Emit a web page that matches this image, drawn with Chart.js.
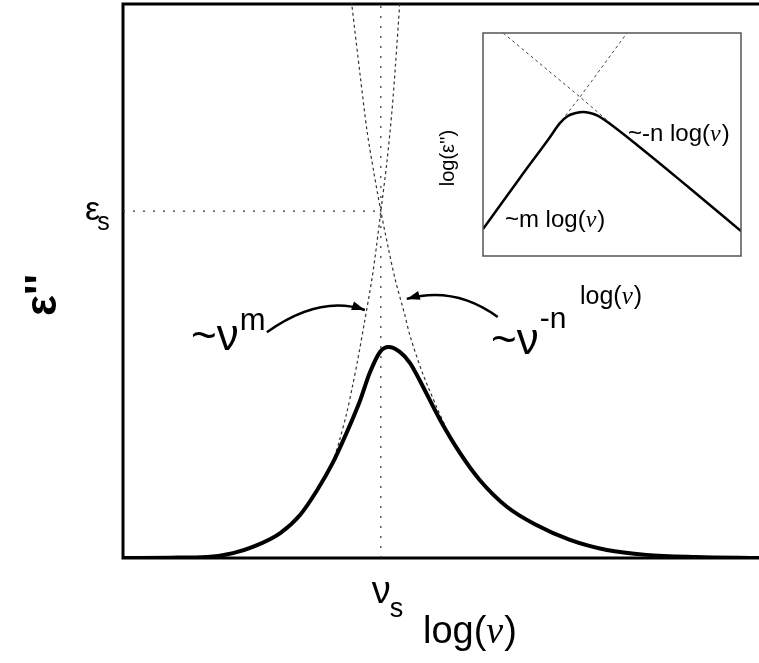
<!DOCTYPE html>
<html>
<head>
<meta charset="utf-8">
<script src="https://cdn.jsdelivr.net/npm/chart.js@4.4.1/dist/chart.umd.min.js"></script>
<style>
  html, body { margin: 0; padding: 0; background: #fff; }
  #wrap { position: relative; width: 759px; height: 663px; }
  #main { position: absolute; left: 0; top: 0; }
  #inset { position: absolute; left: 430px; top: 20px; }
</style>
</head>
<body>
<div id="wrap">
  <canvas id="main" width="759" height="663"></canvas>
  <canvas id="inset" width="329" height="300"></canvas>
</div>
<script>
// main panel: x = log(nu) in decades from nu_s, y = eps'' in units of eps_s
const logNu = [-3.00, -2.45, -2.02, -1.72, -1.49, -1.17, -0.94, -0.74, -0.56, -0.40, -0.24, -0.13, -0.01,
               0.09, 0.22, 0.34, 0.45, 0.69, 0.92, 1.15, 1.47, 1.81, 2.20, 2.63, 3.09, 3.67, 4.40];
const epsLoss = [0.000, 0.001, 0.003, 0.014, 0.032, 0.072, 0.124, 0.196, 0.274, 0.360, 0.455, 0.533, 0.594,
                 0.608, 0.594, 0.562, 0.513, 0.398, 0.303, 0.225, 0.147, 0.095, 0.052, 0.023, 0.009, 0.003, 0.000];

// low frequency power law ~nu^m
const mLogNu = [-0.56, -0.48, -0.40, -0.33, -0.27, -0.19, -0.10, -0.05, 0.00, 0.07, 0.13, 0.17, 0.22, 0.24];
const mEps   = [0.274, 0.340, 0.415, 0.495, 0.570, 0.680, 0.810, 0.900, 1.000, 1.140, 1.290, 1.420, 1.600, 1.680];

// high frequency power law ~nu^-n
const nLogNu = [-0.36, -0.34, -0.24, -0.16, -0.08, 0.00, 0.09, 0.17, 0.28, 0.34, 0.49, 0.65, 0.74];
const nEps   = [1.640, 1.600, 1.390, 1.230, 1.110, 1.000, 0.890, 0.800, 0.700, 0.640, 0.530, 0.435, 0.385];

// crossing point (nu_s, eps_s)
const nuS = 0;
const epsS = 1.0;

// inset: log(eps'') vs log(nu)
const insetX = [0.00, 1.43, 2.60, 2.98, 3.29, 3.60, 3.88, 4.15, 4.46, 4.77, 5.97, 7.91, 10.0];
const insetY = [1.21, 3.50, 5.34, 5.96, 6.28, 6.41, 6.46, 6.41, 6.28, 6.05, 4.98, 3.14, 1.12];
const insetMX = [2.91, 3.76, 5.58];
const insetMY = [5.87, 7.13, 10.0];
const insetNX = [0.78, 3.76, 5.12];
const insetNY = [10.0, 7.13, 5.78];

function pts(xs, ys) {
    return xs.map((x, i) => ({x: x, y: ys[i]}));
}

const SANS = '"Liberation Sans", Arial, sans-serif';
const SERIF = '"Liberation Serif", "Times New Roman", serif';

// draw text made of pieces with different fonts, left to right
function drawParts(ctx, x, y, parts) {
    let cx = x;
    parts.forEach(p => {
        ctx.font = p.font;
        ctx.fillText(p.t, cx, y + (p.dy || 0));
        cx += ctx.measureText(p.t).width + (p.gap || 0);
    });
}

function curvedArrow(ctx, x0, y0, cx, cy, x1, y1) {
    ctx.beginPath();
    ctx.moveTo(x0, y0);
    ctx.quadraticCurveTo(cx, cy, x1, y1);
    ctx.lineWidth = 2.5;
    ctx.stroke();
    let a = Math.atan2(y1 - cy, x1 - cx);
    let L = 13, W = 4.5;
    ctx.beginPath();
    ctx.moveTo(x1, y1);
    ctx.lineTo(x1 - L * Math.cos(a) + W * Math.sin(a), y1 - L * Math.sin(a) - W * Math.cos(a));
    ctx.lineTo(x1 - L * Math.cos(a) - W * Math.sin(a), y1 - L * Math.sin(a) + W * Math.cos(a));
    ctx.closePath();
    ctx.fill();
}

const mainDecor = {
    id: 'mainDecor',
    beforeDatasetsDraw(chart) {
        const ctx = chart.ctx, a = chart.chartArea;
        ctx.save();
        ctx.strokeStyle = '#000';
        ctx.lineWidth = 3;
        ctx.beginPath();
        ctx.moveTo(a.right, a.top + 1);
        ctx.lineTo(a.left, a.top + 1);
        ctx.lineTo(a.left, a.bottom);
        ctx.lineTo(a.right, a.bottom);
        ctx.stroke();
        ctx.restore();
    },
    afterDraw(chart) {
        const ctx = chart.ctx, a = chart.chartArea;
        const xs = chart.scales.x, ys = chart.scales.y;
        ctx.save();
        ctx.fillStyle = '#000';
        ctx.strokeStyle = '#000';
        ctx.textAlign = 'left';
        ctx.textBaseline = 'alphabetic';

        // eps_s at the left axis
        let yS = ys.getPixelForValue(epsS);
        drawParts(ctx, a.left - 38, yS + 9, [
            {t: 'ε', font: '34px ' + SANS, gap: -3},
            {t: 's', font: '25px ' + SANS, dy: 10}
        ]);

        // nu_s under the axis
        let xS = xs.getPixelForValue(nuS);
        drawParts(ctx, xS - 9, a.bottom + 45, [
            {t: 'ν', font: '38px ' + SANS, gap: -1},
            {t: 's', font: '27px ' + SANS, dy: 14}
        ]);

        // x axis title
        drawParts(ctx, 423, a.bottom + 85, [
            {t: 'log(', font: '38px ' + SANS},
            {t: 'ν', font: 'italic 38px ' + SERIF, gap: 1},
            {t: ')', font: '38px ' + SANS}
        ]);

        // y axis title, rotated
        ctx.save();
        ctx.translate(56, 295);
        ctx.rotate(-Math.PI / 2);
        ctx.textAlign = 'center';
        ctx.font = 'bold 44px ' + SANS;
        ctx.fillText("ε''", 0, 0);
        ctx.restore();

        // power law annotations
        drawParts(ctx, 191, 350, [
            {t: '~ν', font: '44px ' + SANS, gap: 1},
            {t: 'm', font: '31px ' + SANS, dy: -20}
        ]);
        drawParts(ctx, 491, 354, [
            {t: '~ν', font: '44px ' + SANS, gap: 1},
            {t: '-n', font: '30px ' + SANS, dy: -26}
        ]);

        curvedArrow(ctx,
            xs.getPixelForValue(-1.326), ys.getPixelForValue(0.651),
            xs.getPixelForValue(-0.709), ys.getPixelForValue(0.760),
            xs.getPixelForValue(-0.186), ys.getPixelForValue(0.715));
        curvedArrow(ctx,
            xs.getPixelForValue(1.360), ys.getPixelForValue(0.695),
            xs.getPixelForValue(0.860), ys.getPixelForValue(0.785),
            xs.getPixelForValue(0.302), ys.getPixelForValue(0.747));
        ctx.restore();
    }
};

const insetDecor = {
    id: 'insetDecor',
    afterDraw(chart) {
        const ctx = chart.ctx, a = chart.chartArea;
        const xs = chart.scales.x, ys = chart.scales.y;
        ctx.save();
        ctx.strokeStyle = '#555';
        ctx.lineWidth = 1.5;
        ctx.strokeRect(a.left, a.top, a.right - a.left, a.bottom - a.top);

        ctx.fillStyle = '#000';
        ctx.textBaseline = 'alphabetic';
        ctx.textAlign = 'left';
        drawParts(ctx, xs.getPixelForValue(5.62), ys.getPixelForValue(5.16), [
            {t: '~-n log(', font: '24px ' + SANS},
            {t: 'ν', font: 'italic 24px ' + SERIF, gap: 1},
            {t: ')', font: '24px ' + SANS}
        ]);
        drawParts(ctx, xs.getPixelForValue(0.85), ys.getPixelForValue(1.30), [
            {t: '~m log(', font: '24px ' + SANS},
            {t: 'ν', font: 'italic 24px ' + SERIF, gap: 1},
            {t: ')', font: '24px ' + SANS}
        ]);
        drawParts(ctx, a.left + 97, a.bottom + 48, [
            {t: 'log(', font: '25px ' + SANS},
            {t: 'ν', font: 'italic 25px ' + SERIF, gap: 1},
            {t: ')', font: '25px ' + SANS}
        ]);

        ctx.save();
        ctx.translate(a.left - 29, a.top + 125);
        ctx.rotate(-Math.PI / 2);
        ctx.textAlign = 'center';
        ctx.font = '20px ' + SANS;
        ctx.fillText("log(ε'')", 0, 0);
        ctx.restore();
        ctx.restore();
    }
};

new Chart(document.getElementById('main').getContext('2d'), {
    type: 'line',
    data: {
        datasets: [{
            data: pts(logNu, epsLoss),
            borderColor: '#000',
            borderWidth: 4,
            cubicInterpolationMode: 'monotone',
            order: 0
        }, {
            data: pts(mLogNu, mEps),
            borderColor: '#333',
            borderWidth: 1.2,
            borderDash: [3, 3],
            tension: 0.3,
            order: 1
        }, {
            data: pts(nLogNu, nEps),
            borderColor: '#333',
            borderWidth: 1.2,
            borderDash: [3, 3],
            tension: 0.3,
            order: 1
        }, {
            data: pts([-3, nuS], [epsS, epsS]),
            borderColor: '#333',
            borderWidth: 1.2,
            borderDash: [2, 8],
            order: 2
        }, {
            data: pts([nuS, nuS], [0, 1.6]),
            borderColor: '#333',
            borderWidth: 1.2,
            borderDash: [2, 8],
            order: 2
        }]
    },
    options: {
        responsive: false,
        animation: false,
        layout: {padding: {left: 123, top: 3, right: 0, bottom: 105}},
        elements: {point: {radius: 0}},
        plugins: {legend: {display: false}, tooltip: {enabled: false}},
        scales: {
            x: {type: 'linear', min: -3, max: 4.4, display: false},
            y: {type: 'linear', min: 0, max: 1.6, display: false}
        }
    },
    plugins: [mainDecor]
});

new Chart(document.getElementById('inset').getContext('2d'), {
    type: 'line',
    data: {
        datasets: [{
            data: pts(insetX, insetY),
            borderColor: '#000',
            borderWidth: 2.5,
            cubicInterpolationMode: 'monotone'
        }, {
            data: pts(insetMX, insetMY),
            borderColor: '#444',
            borderWidth: 1,
            borderDash: [3, 3]
        }, {
            data: pts(insetNX, insetNY),
            borderColor: '#444',
            borderWidth: 1,
            borderDash: [3, 3]
        }]
    },
    options: {
        responsive: false,
        animation: false,
        layout: {padding: {left: 53, top: 13, right: 18, bottom: 64}},
        elements: {point: {radius: 0}},
        plugins: {legend: {display: false}, tooltip: {enabled: false}},
        scales: {
            x: {type: 'linear', min: 0, max: 10, display: false},
            y: {type: 'linear', min: 0, max: 10, display: false}
        }
    },
    plugins: [insetDecor]
});
</script>
</body>
</html>
